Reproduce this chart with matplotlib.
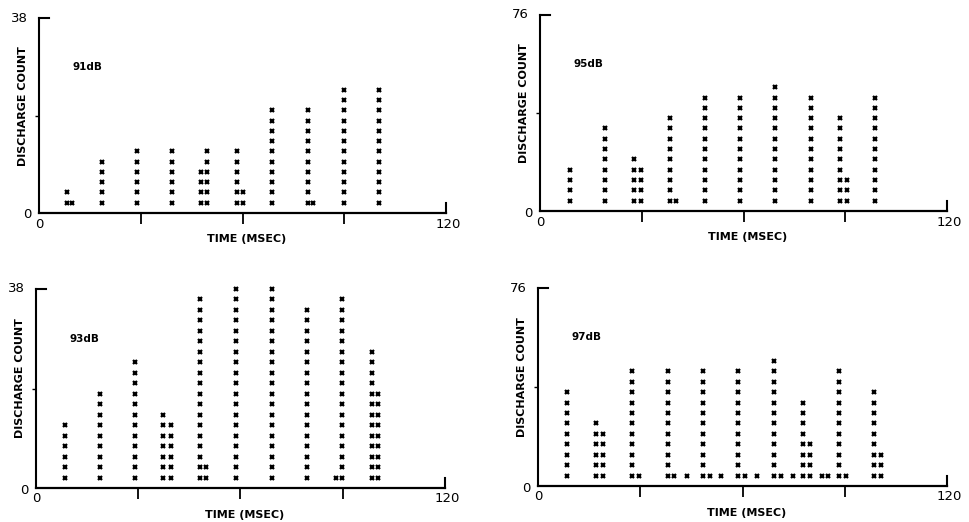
import numpy as np
import matplotlib
matplotlib.use("Agg")
import matplotlib.pyplot as plt
from matplotlib.transforms import offset_copy

# bin times (msec) and discharge counts
t91 = [8.4, 9.8, 18.7, 28.9, 39.2, 47.9, 49.6, 58.4, 60.2, 68.8, 79.4, 80.8, 90.0, 100.2]
n91 = [4, 2, 10, 12, 12, 8, 12, 12, 4, 20, 20, 2, 24, 24]

t95 = [8.8, 19.3, 27.8, 29.8, 38.3, 40.0, 48.6, 58.9, 69.4, 79.9, 88.4, 90.4, 98.9]
n95 = [16, 32, 20, 16, 36, 4, 44, 44, 48, 44, 36, 12, 44]

t93 = [8.5, 18.8, 29.0, 37.4, 39.5, 48.1, 49.9, 58.6, 69.1, 79.4, 88.0, 89.7, 98.5, 100.2]
n93 = [12, 18, 24, 14, 12, 36, 4, 38, 38, 34, 2, 36, 26, 18]

t97 = [8.6, 17.1, 19.1, 27.7, 29.6, 38.0, 39.9, 43.7, 48.5, 50.4, 53.7, 58.8, 60.7,
       64.3, 69.3, 71.2, 74.7, 77.7, 79.9, 83.4, 85.2, 88.3, 90.4, 98.6, 100.6]
n97 = [36, 24, 20, 44, 4, 44, 4, 4, 44, 4, 4, 44, 4, 4, 48, 4, 4, 32, 16, 4, 4, 44, 4, 36, 12]

labels = ["91dB", "95dB", "93dB", "97dB"]
ymaxes = [38, 76, 38, 76]
steps = [2, 4, 2, 4]          # counts per printed dot
panels = [(t91, n91), (t95, n95), (t93, n93), (t97, n97)]

W, H = 970, 522
fig = plt.figure(figsize=(W / 100, H / 100), dpi=100)
fig.patch.set_facecolor("white")

# axes boxes in pixels: left, right, bottom(0), top(ymax)
boxes = [(39, 446, 213, 18), (540, 947, 211, 15),
         (36, 445, 488, 289), (538, 947, 486, 288)]

for i in range(4):
    x0, x1, yb, yt = boxes[i]
    ax = fig.add_axes([x0 / W, 1 - yb / H, (x1 - x0) / W, (yb - yt) / H])
    ymax = ymaxes[i]
    step = steps[i]
    times, counts = panels[i]

    xs, ys = [], []
    for t, c in zip(times, counts):
        for y in np.arange(step, c + 1, step):
            xs.append(t)
            ys.append(y)
    ax.plot(xs, ys, "x", color="black", ms=3.2, mew=1.6, clip_on=False)

    ax.set_xlim(0, 120)
    ax.set_ylim(0, ymax)
    ax.spines["top"].set_visible(False)
    ax.spines["right"].set_visible(False)
    ax.spines["left"].set_linewidth(1.5)
    ax.spines["bottom"].set_linewidth(1.6)

    ax.set_xticks([30, 60, 90])
    ax.set_xticklabels([])
    ax.tick_params(axis="x", direction="out", length=8, width=1.3)
    ax.set_yticks([ymax / 2])
    ax.set_yticklabels([])
    ax.tick_params(axis="y", direction="out", length=3, width=1.0)

    # end marks on the axes
    ax.plot([120, 120], [0, ymax * 0.05], color="black", lw=1.5, clip_on=False)
    ax.plot([0, 3], [ymax, ymax], color="black", lw=1.5, clip_on=False)

    # numbers at the ends of the axes
    tr = ax.transData
    ax.text(0, 0, "0", transform=offset_copy(tr, fig, x=-12, y=-2, units="dots"),
            ha="center", va="center", fontsize=9.5)
    ax.text(0, ymax, str(ymax), transform=offset_copy(tr, fig, x=-20, y=0, units="dots"),
            ha="center", va="center", fontsize=9.5)
    ax.text(0, 0, "0", transform=offset_copy(tr, fig, x=0, y=-11, units="dots"),
            ha="center", va="center", fontsize=9.5)
    ax.text(120, 0, "120", transform=offset_copy(tr, fig, x=2, y=-11, units="dots"),
            ha="center", va="center", fontsize=9.5)

    ax.text(0.082, 0.75, labels[i], transform=ax.transAxes, ha="left", va="center",
            fontsize=7.5, fontweight="bold")
    ax.text(0.51, -0.135, "TIME (MSEC)", transform=ax.transAxes, ha="center",
            va="center", fontsize=8, fontweight="bold")
    ax.text(-0.04, 0.55, "DISCHARGE COUNT", transform=ax.transAxes, ha="center",
            va="center", rotation=90, fontsize=8, fontweight="bold")

fig.savefig("out.png", dpi=100, facecolor="white")
